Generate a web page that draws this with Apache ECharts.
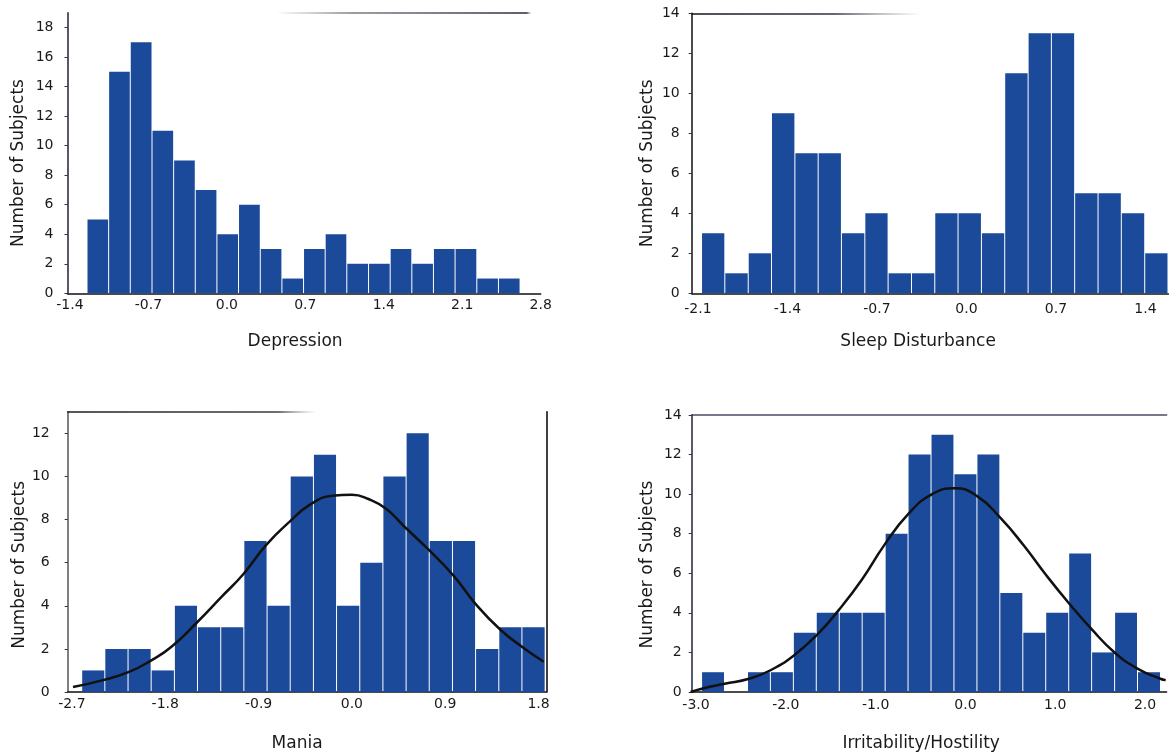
<!DOCTYPE html>
<html>
<head>
<meta charset="utf-8">
<script src="https://cdn.jsdelivr.net/npm/echarts@6/dist/echarts.min.js"></script>
<style>
  html, body { margin: 0; padding: 0; background: #ffffff; }
  #chart { width: 1169px; height: 753px; }
</style>
</head>
<body>
<div id="chart"></div>
<script>
// ---------- Data ----------
// Depression (top-left)
const depEdges = [-1.248, -1.055, -0.862, -0.668, -0.475, -0.282, -0.089, 0.104, 0.298, 0.491, 0.684,
                  0.877, 1.070, 1.264, 1.457, 1.650, 1.843, 2.036, 2.230, 2.423, 2.616];
const depCounts = [5, 15, 17, 11, 9, 7, 4, 6, 3, 1, 3, 4, 2, 2, 3, 2, 3, 3, 1, 1];
const depTicks = [-1.4, -0.7, 0.0, 0.7, 1.4, 2.1, 2.8];
const depYTicks = [0, 2, 4, 6, 8, 10, 12, 14, 16, 18];

// Sleep Disturbance (top-right)
const sleepEdges = [-2.072, -1.890, -1.707, -1.525, -1.342, -1.160, -0.978, -0.795, -0.613, -0.430, -0.248,
                    -0.066, 0.117, 0.299, 0.482, 0.664, 0.846, 1.029, 1.211, 1.394, 1.576];
const sleepCounts = [3, 1, 2, 9, 7, 7, 3, 4, 1, 1, 4, 4, 3, 11, 13, 13, 5, 5, 4, 2];
const sleepTicks = [-2.1, -1.4, -0.7, 0.0, 0.7, 1.4];
const sleepYTicks = [0, 2, 4, 6, 8, 10, 12, 14];

// Mania (bottom-left)
const maniaEdges = [-2.606, -2.383, -2.159, -1.936, -1.712, -1.489, -1.265, -1.042, -0.818, -0.595, -0.371,
                    -0.148, 0.076, 0.299, 0.523, 0.746, 0.970, 1.193, 1.417, 1.640, 1.864];
const maniaCounts = [1, 2, 2, 1, 4, 3, 3, 7, 4, 10, 11, 4, 6, 10, 12, 7, 7, 2, 3, 3];
const maniaTicks = [-2.7, -1.8, -0.9, 0.0, 0.9, 1.8];
const maniaYTicks = [0, 2, 4, 6, 8, 10, 12];
const maniaCurveX = [-2.69, -2.40, -2.15, -1.93, -1.74, -1.50, -1.26, -1.05, -0.83, -0.60, -0.40,
                     -0.19, 0.00, 0.16, 0.33, 0.50, 0.74, 0.98, 1.19, 1.43, 1.64, 1.85];
const maniaCurveY = [0.23, 0.55, 0.93, 1.48, 2.1, 3.2, 4.4, 5.45, 6.8, 7.9, 8.7,
                     9.1, 9.15, 8.95, 8.5, 7.7, 6.6, 5.4, 4.1, 2.9, 2.1, 1.4];

// Irritability/Hostility (bottom-right)
const irrEdges = [-2.938, -2.683, -2.427, -2.172, -1.916, -1.661, -1.405, -1.150, -0.894, -0.639, -0.383,
                  -0.128, 0.128, 0.383, 0.639, 0.894, 1.150, 1.405, 1.661, 1.916, 2.172];
const irrCounts = [1, 0, 1, 1, 3, 4, 4, 4, 8, 12, 13, 11, 12, 5, 3, 4, 7, 2, 4, 1];
const irrTicks = [-3.0, -2.0, -1.0, 0.0, 1.0, 2.0];
const irrYTicks = [0, 2, 4, 6, 8, 10, 12, 14];
const irrCurveX = [-3.06, -2.86, -2.68, -2.41, -2.17, -1.91, -1.65, -1.40, -1.15, -0.90, -0.64, -0.37,
                   -0.12, 0.13, 0.39, 0.65, 0.90, 1.15, 1.40, 1.66, 1.92, 2.17, 2.23];
const irrCurveY = [0.0, 0.25, 0.42, 0.67, 1.1, 1.85, 2.9, 4.2, 5.7, 7.45, 8.98, 10.0,
                   10.3, 9.9, 8.8, 7.4, 5.9, 4.5, 3.2, 2.0, 1.17, 0.67, 0.6];

// ---------- Styling ----------
const BAR = '#1a4a99';
const TXT = '#1a1a1a';
const FONT = 'DejaVu Sans';

function histData(edges, counts) {
  return counts.map((c, i) => [edges[i], edges[i + 1], c]);
}
function curveData(xs, ys) {
  return xs.map((x, i) => [x, ys[i]]);
}
function renderBin(params, api) {
  const a = api.coord([api.value(0), api.value(2)]);
  const b = api.coord([api.value(1), 0]);
  return {
    type: 'rect',
    shape: { x: a[0] + 0.5, y: a[1], width: b[0] - a[0] - 1, height: b[1] - a[1] },
    style: { fill: BAR }
  };
}
function grad(x1, x2, stops) {
  return { type: 'linear', x: x1, y: 0, x2: x2, y2: 0, global: true,
           colorStops: stops.map(s => ({ offset: s[0], color: s[1] })) };
}

const grids = [
  { left: 67.5, top: 12.7, width: 473.2, height: 280.6 },
  { left: 691.7, top: 13.3, width: 476.8, height: 280 },
  { left: 67.7, top: 411.7, width: 478.8, height: 280.3 },
  { left: 691.7, top: 415, width: 474.9, height: 277 }
].map(g => Object.assign({ containLabel: false, outerBoundsMode: 'none' }, g));

function xAxisMain(gi, min, max, ticks, name, margin, gap, pad) {
  return {
    type: 'value', gridIndex: gi, position: 'bottom', min: min, max: max,
    splitLine: { show: false },
    axisLine: { show: true, onZero: false, lineStyle: { color: '#111', width: 1.5 } },
    axisTick: { show: false },
    axisLabel: { customValues: ticks, formatter: v => v.toFixed(1), color: TXT,
                 fontFamily: FONT, fontSize: 14, margin: margin },
    name: name, nameLocation: 'middle', nameGap: gap,
    nameTextStyle: { color: TXT, fontFamily: FONT, fontSize: 17, padding: pad }
  };
}
function yAxisMain(gi, max, ticks, margin, gap, pad, lineColor) {
  return {
    type: 'value', gridIndex: gi, position: 'left', min: 0, max: max,
    splitLine: { show: false },
    axisLine: { show: true, onZero: false, lineStyle: { color: lineColor, width: 1.5 } },
    axisTick: { show: true, customValues: ticks, length: 3, lineStyle: { color: '#333' } },
    axisLabel: { customValues: ticks, color: TXT, fontFamily: FONT, fontSize: 14, margin: margin },
    name: 'Number of Subjects', nameLocation: 'middle', nameGap: gap,
    nameTextStyle: { color: TXT, fontFamily: FONT, fontSize: 17, padding: pad }
  };
}
function topLine(gi, color) {
  return {
    type: 'value', gridIndex: gi, position: 'top', min: 0, max: 1,
    splitLine: { show: false }, axisTick: { show: false }, axisLabel: { show: false },
    axisLine: { show: true, onZero: false, lineStyle: { color: color, width: 1.6 } }
  };
}

const option = {
  backgroundColor: '#ffffff',
  animation: false,
  grid: grids,
  xAxis: [
    xAxisMain(0, -1.422, 2.8, depTicks, 'Depression', 5, 40, [0, 18, 0, 0]),
    xAxisMain(1, -2.149, 1.58, sleepTicks, 'Sleep Disturbance', 9, 40, [0, 24, 0, 0]),
    xAxisMain(2, -2.741, 1.877, maniaTicks, 'Mania', 5, 43, [0, 20, 0, 0]),
    xAxisMain(3, -3.048, 2.24, irrTicks, 'Irritability/Hostility', 6, 43, [0, 16, 0, 0]),
    topLine(0, grad(67.5, 540.7, [[0, 'rgba(70,70,80,0)'], [0.44, 'rgba(70,70,80,0)'],
                                   [0.6, 'rgba(70,70,80,0.7)'], [0.97, 'rgba(40,40,70,1)'],
                                   [0.98, 'rgba(40,40,70,0)'], [1, 'rgba(40,40,70,0)']])),
    topLine(1, grad(691.7, 1168.5, [[0, 'rgba(20,20,30,1)'], [0.3, 'rgba(30,30,50,0.9)'],
                                     [0.48, 'rgba(80,80,90,0)'], [1, 'rgba(80,80,90,0)']])),
    topLine(2, grad(67.7, 546.5, [[0, 'rgba(30,30,30,1)'], [0.44, 'rgba(40,40,40,0.9)'],
                                   [0.52, 'rgba(120,120,120,0)'], [1, 'rgba(120,120,120,0)']])),
    topLine(3, 'rgba(45,45,75,0.85)')
  ],
  yAxis: [
    yAxisMain(0, 19, depYTicks, 14, 40, [0, 20, 0, 0], '#1c2040'),
    yAxisMain(1, 14, sleepYTicks, 12, 36, [0, 20, 0, 0], '#111'),
    yAxisMain(2, 13, maniaYTicks, 18, 40, [0, 26, 0, 0], '#555'),
    yAxisMain(3, 14, irrYTicks, 10, 36, [0, 22, 0, 0], '#1c2040'),
    {
      type: 'value', gridIndex: 2, position: 'right', min: 0, max: 13,
      splitLine: { show: false }, axisTick: { show: false }, axisLabel: { show: false },
      axisLine: { show: true, onZero: false, lineStyle: { color: '#111', width: 1.6 } }
    }
  ],
  series: [
    { type: 'custom', xAxisIndex: 0, yAxisIndex: 0, renderItem: renderBin,
      encode: { x: [0, 1], y: 2 }, data: histData(depEdges, depCounts) },
    { type: 'custom', xAxisIndex: 1, yAxisIndex: 1, renderItem: renderBin,
      encode: { x: [0, 1], y: 2 }, data: histData(sleepEdges, sleepCounts) },
    { type: 'custom', xAxisIndex: 2, yAxisIndex: 2, renderItem: renderBin,
      encode: { x: [0, 1], y: 2 }, data: histData(maniaEdges, maniaCounts) },
    { type: 'custom', xAxisIndex: 3, yAxisIndex: 3, renderItem: renderBin,
      encode: { x: [0, 1], y: 2 }, data: histData(irrEdges, irrCounts) },
    { type: 'line', xAxisIndex: 2, yAxisIndex: 2, smooth: 0.5, symbol: 'none', z: 5,
      lineStyle: { color: '#111', width: 2.5 }, data: curveData(maniaCurveX, maniaCurveY) },
    { type: 'line', xAxisIndex: 3, yAxisIndex: 3, smooth: 0.5, symbol: 'none', z: 5,
      lineStyle: { color: '#111', width: 2.5 }, data: curveData(irrCurveX, irrCurveY) }
  ]
};

const chart = echarts.init(document.getElementById('chart'), null, { renderer: 'canvas' });
chart.setOption(option);
</script>
</body>
</html>
